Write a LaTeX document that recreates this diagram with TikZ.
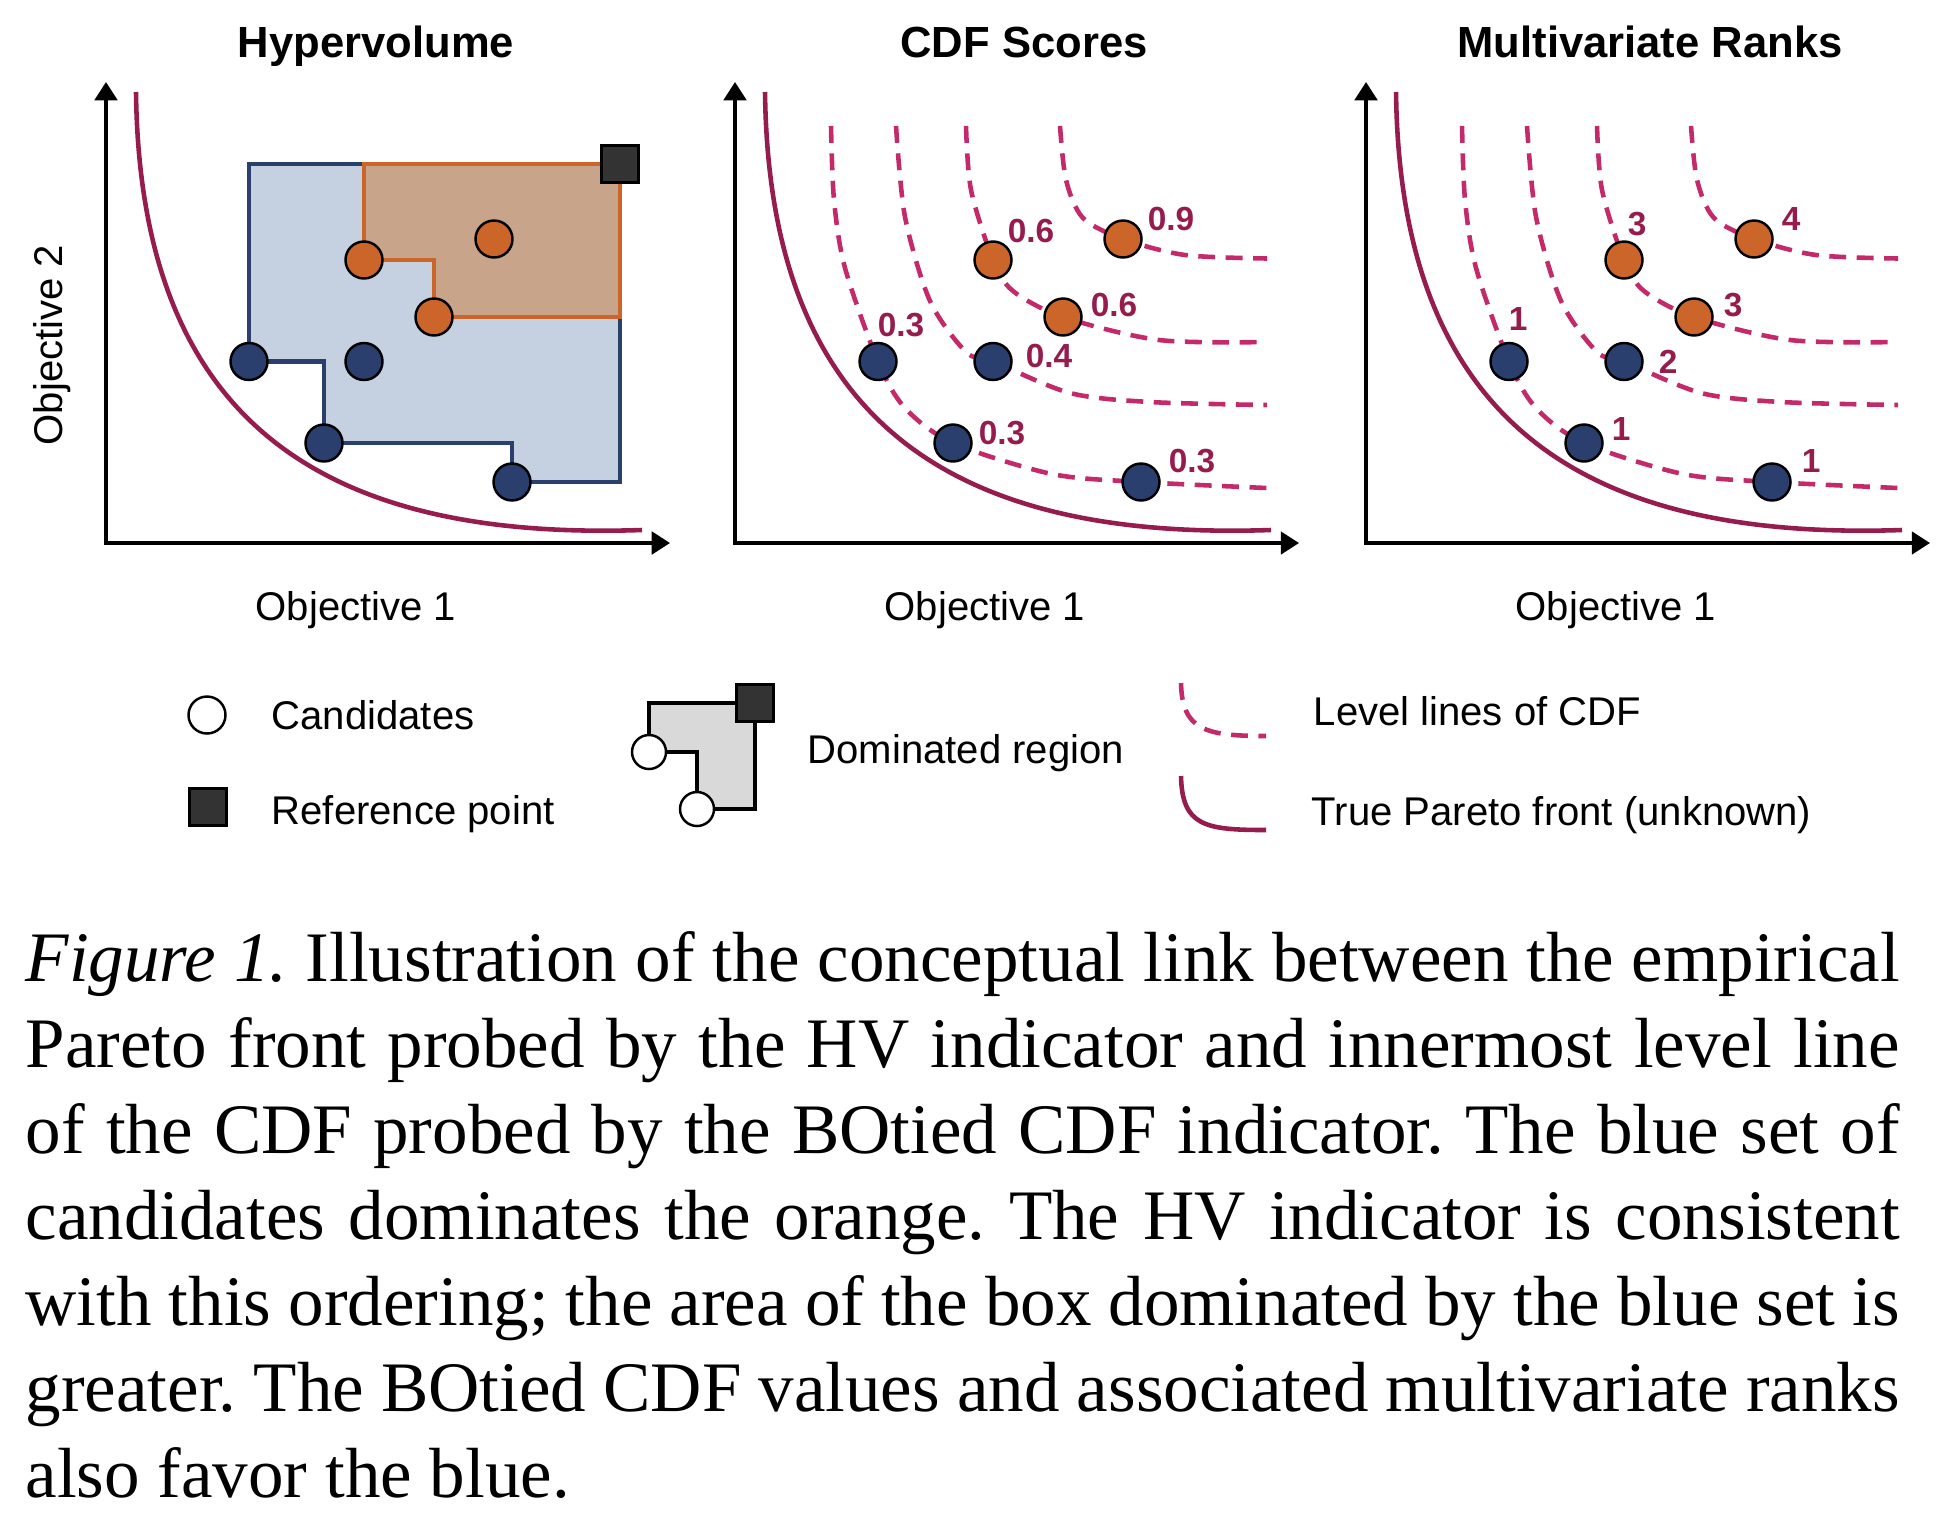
\documentclass[tikz,border=0pt]{standalone}
\usepackage{fontspec}
\setmainfont{Liberation Serif}
\setsansfont{Liberation Sans}
\usetikzlibrary{arrows.meta,backgrounds}

\definecolor{dotBlue}{HTML}{2B3F6F}
\definecolor{dotOrange}{HTML}{CC6529}
\definecolor{regionBlue}{HTML}{C5D1E1}
\definecolor{regionOrange}{HTML}{C7A48A}
\definecolor{paretoRed}{HTML}{951C4D}
\definecolor{levelPink}{HTML}{C42A6A}
\definecolor{refGrey}{HTML}{333333}
\definecolor{legendGrey}{HTML}{D9D9D9}

\tikzset{
	axis/.style={line width=1pt,{Triangle[length=5.2pt,width=6.4pt]}-{Triangle[length=5.2pt,width=6.4pt]}},
	front/.style={paretoRed,line width=1.3pt},
	level/.style={levelPink,line width=1.3pt,dash pattern=on 4.8pt off 3pt},
	dot/.style={circle,draw=black,line width=0.7pt,minimum size=3.7mm,inner sep=0pt},
	refsq/.style={rectangle,draw=black,fill=refGrey,line width=0.8pt,minimum size=3.7mm,inner sep=0pt},
	score/.style={font=\sffamily\fontsize{9.5}{11}\selectfont\bfseries,text=paretoRed,inner sep=0pt},
	title/.style={font=\sffamily\fontsize{12.4}{14}\selectfont\bfseries,anchor=base,inner sep=0pt},
	axlabel/.style={font=\sffamily\fontsize{11.4}{13}\selectfont,inner sep=0pt},
}

\begin{document}
\begin{tikzpicture}[x=0.1mm,y=-0.1mm,font=\sffamily]
\useasboundingbox (0,0) rectangle (1948,1528);

% same axes, front and candidates in the three panels
\foreach \p/\ox in {hv/106,cdf/735,rk/1366}
{%
	\begin{scope}[shift={(\ox,0)}]
	\coordinate (\p-o) at (0,543);
	\coordinate (\p-ytip) at (0,82);
	\coordinate (\p-xtip) at (564,543);
	\draw[axis] (\p-ytip) -- (\p-o) -- (\p-xtip);
	\draw[front] (30,92) .. controls (34,420) and (214,541) .. (536,530);
	\node[axlabel,anchor=base] (\p-xlab) at (250,620) {Objective 1};
	\foreach \nm/\px/\py/\col in {A/143/361.5/dotBlue,B/258/361.5/dotBlue,C/218/443/dotBlue,D/406/482/dotBlue,E/258/260/dotOrange,F/388/239/dotOrange,G/328/317/dotOrange}
		\node[dot,fill=\col] (\p-\nm) at (\px,\py) {};
	\end{scope}
}%

% hypervolume
\node[title] (hv-title) at (376,57) {Hypervolume};
\node[axlabel,rotate=90] (hv-ylab) at (52,345) {Objective 2};
\node[refsq] (hv-ref) at (620,164) {};
\begin{pgfonlayer}{background}
\draw[draw=dotBlue,fill=regionBlue,line width=1.25pt] (hv-A.center) |- (hv-ref.center) |- (hv-D.center) |- (hv-C.center) |- (hv-A.center) -- cycle;
\draw[draw=dotOrange,fill=regionOrange,line width=1.25pt] (hv-E.center) |- (hv-ref.center) |- (hv-G.center) |- (hv-E.center) -- cycle;
\end{pgfonlayer}

% level lines of the cdf
\begin{pgfonlayer}{background}
\foreach \ox in {735,1366}
{%
	\begin{scope}[shift={(\ox,0)}]
	\draw[level] plot[smooth] coordinates {(96,126) (99,200) (110,268) (143,361.5) (170,408) (218,443) (317,474) (406,482) (532,488)};
	\draw[level] plot[smooth] coordinates {(161,126) (170,217) (195,301) (231,352) (258,361.5) (335,393) (415,402) (532,405)};
	\draw[level] plot[smooth] coordinates {(231,126) (236,190) (258,260) (278,291) (328,317) (424,340) (532,342)};
	\draw[level] plot[smooth] coordinates {(325,126) (331,180) (348,218) (388,239) (450,255) (532,258.5)};
	\end{scope}
}%
\end{pgfonlayer}

% cdf scores
\node[title] (cdf-title) at (1024,57) {CDF Scores};
\begin{scope}[shift={(735,0)}]
\foreach \nm/\lx/\ly/\txt in {A/166/325/0.3,E/296/231/0.6,F/436/219/0.9,G/379/305/0.6,B/314/356/0.4,C/267/433/0.3,D/457/461/0.3}
	\node[score] (cdf-\nm-lab) at (\lx,\ly) {\txt};
\end{scope}

% multivariate ranks
\node[title] (rk-title) at (1650,57) {Multivariate Ranks};
\begin{scope}[shift={(1366,0)}]
\foreach \nm/\lx/\ly/\txt in {A/152/319/1,E/271/224/3,F/425/219/4,G/367/305/3,B/302/362/2,C/255/429/1,D/445/461/1}
	\node[score] (rk-\nm-lab) at (\lx,\ly) {\txt};
\end{scope}

% legend
\node[dot,fill=white] (lg-cand) at (207,715) {};
\node[axlabel,anchor=base west] (lg-cand-txt) at (271,729.5) {Candidates};
\node[refsq] (lg-ref) at (208,807) {};
\node[axlabel,anchor=base west] (lg-ref-txt) at (271,824) {Reference point};
\node[dot,fill=white,minimum size=3.4mm] (lg-c1) at (649,752) {};
\node[dot,fill=white,minimum size=3.4mm] (lg-c2) at (697,809) {};
\node[refsq] (lg-sq) at (755,703) {};
\begin{pgfonlayer}{background}
\draw[fill=legendGrey,line width=1.25pt] (lg-c1.center) |- (lg-sq.center) |- (lg-c2.center) |- (lg-c1.center) -- cycle;
\end{pgfonlayer}
\node[axlabel,anchor=base west] (lg-dom-txt) at (807,763) {Dominated region};
\coordinate (lg-lvl-a) at (1181,683);
\coordinate (lg-lvl-b) at (1266,736);
\draw[level] (lg-lvl-a) .. controls (1182,730) and (1205,736) .. (lg-lvl-b);
\node[axlabel,anchor=base west] (lg-lvl-txt) at (1313,725) {Level lines of CDF};
\coordinate (lg-front-a) at (1181,776);
\coordinate (lg-front-b) at (1266,830);
\draw[front] (lg-front-a) .. controls (1182,826) and (1205,830) .. (lg-front-b);
\node[axlabel,anchor=base west] (lg-front-txt) at (1311,825) {True Pareto front (unknown)};

% caption
\node[anchor=base west,inner sep=0pt] (caption) at (25,981) {\parbox[t]{187.4mm}{\rmfamily\frenchspacing\fontsize{20.2}{24.5}\selectfont
\makebox[\linewidth][s]{\textit{Figure 1.} Illustration of the conceptual link between the empirical}\\
\makebox[\linewidth][s]{Pareto front probed by the HV indicator and innermost level line}\\
\makebox[\linewidth][s]{of the CDF probed by the BOtied CDF indicator. The blue set of}\\
\makebox[\linewidth][s]{candidates dominates the orange. The HV indicator is consistent}\\
\makebox[\linewidth][s]{with this ordering; the area of the box dominated by the blue set is}\\
\makebox[\linewidth][s]{greater. The BOtied CDF values and associated multivariate ranks}\\
also favor the blue.}};
\end{tikzpicture}
\end{document}
